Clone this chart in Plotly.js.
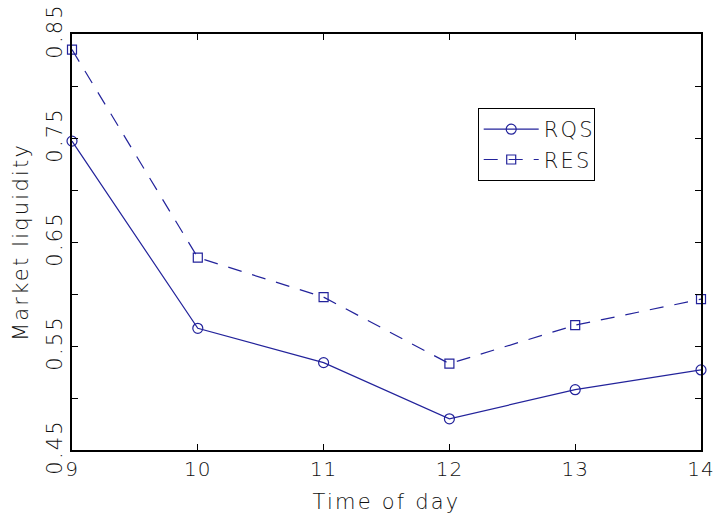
<!DOCTYPE html>
<html>
<head>
<meta charset="utf-8">
<script src="https://cdn.plot.ly/plotly-3.0.1.min.js"></script>
<style>
html,body{margin:0;padding:0;background:#fff;}
#chart{width:715px;height:517px;}
#chart text{letter-spacing:2.2px;}
#chart .xtick text{letter-spacing:1px;}
</style>
</head>
<body>
<div id="chart"></div>
<script>
const hours = [9, 10, 11, 12, 13, 14];
const rqs = [0.747, 0.567, 0.534, 0.480, 0.508, 0.527];
const res = [0.835, 0.635, 0.597, 0.533, 0.570, 0.595];
const yTickVals = [0.45, 0.55, 0.65, 0.75, 0.85];
const yTickText = ['0.45', '0.55', '0.65', '0.75', '0.85'];
const xTickVals = [9, 10, 11, 12, 13, 14];

const blue = '#23239b';
const fontFam = 'DejaVu Sans ExtraLight, DejaVu Sans, sans-serif';
const txt = {family: fontFam, size: 21, color: '#111', weight: 200};
const xtxt = {family: fontFam, size: 20, color: '#111', weight: 200};

const traces = [
  {
    x: hours, y: rqs, name: 'RQS', type: 'scatter', mode: 'lines+markers',
    line: {color: blue, width: 1.2},
    marker: {symbol: 'circle-open', size: 10, color: blue, line: {width: 1.2, color: blue}},
    cliponaxis: false
  },
  {
    x: hours, y: res, name: 'RES', type: 'scatter', mode: 'lines+markers',
    line: {color: blue, width: 1.2, dash: '14px,11px'},
    marker: {symbol: 'square-open', size: 9, color: blue, line: {width: 1.2, color: blue}},
    cliponaxis: false
  }
];

const layout = {
  width: 715, height: 517,
  margin: {l: 72, r: 14, t: 34, b: 67},
  paper_bgcolor: '#fff', plot_bgcolor: '#fff',
  font: txt,
  showlegend: true,
  legend: {
    x: 0.645, y: 0.822, xanchor: 'left', yanchor: 'top',
    bgcolor: '#fff', bordercolor: '#000', borderwidth: 1,
    font: txt, itemwidth: 55,
    tracegroupgap: 0
  },
  xaxis: {
    range: [9, 14], tickvals: xTickVals, ticktext: xTickVals.map(String),
    ticks: 'inside', ticklen: 6, tickcolor: '#000', tickwidth: 1,
    showline: true, linecolor: '#000', linewidth: 2, mirror: 'ticks',
    showgrid: false, zeroline: false,
    tickfont: xtxt,
    title: {text: 'Time of day', font: txt, standoff: 14}
  },
  yaxis: {
    range: [0.45, 0.85], tickvals: yTickVals, ticktext: yTickText,
    tickangle: -90,
    ticks: 'inside', ticklen: 6, tickcolor: '#000', tickwidth: 1,
    minor: {dtick: 0.05, tick0: 0.45, ticks: 'inside', ticklen: 6, tickcolor: '#000', showgrid: false},
    showline: true, linecolor: '#000', linewidth: 2, mirror: 'ticks',
    showgrid: false, zeroline: false,
    tickfont: txt,
    title: {text: 'Market liquidity', font: txt, standoff: 8}
  }
};

Plotly.newPlot('chart', traces, layout, {displayModeBar: false, staticPlot: true});
</script>
</body>
</html>
